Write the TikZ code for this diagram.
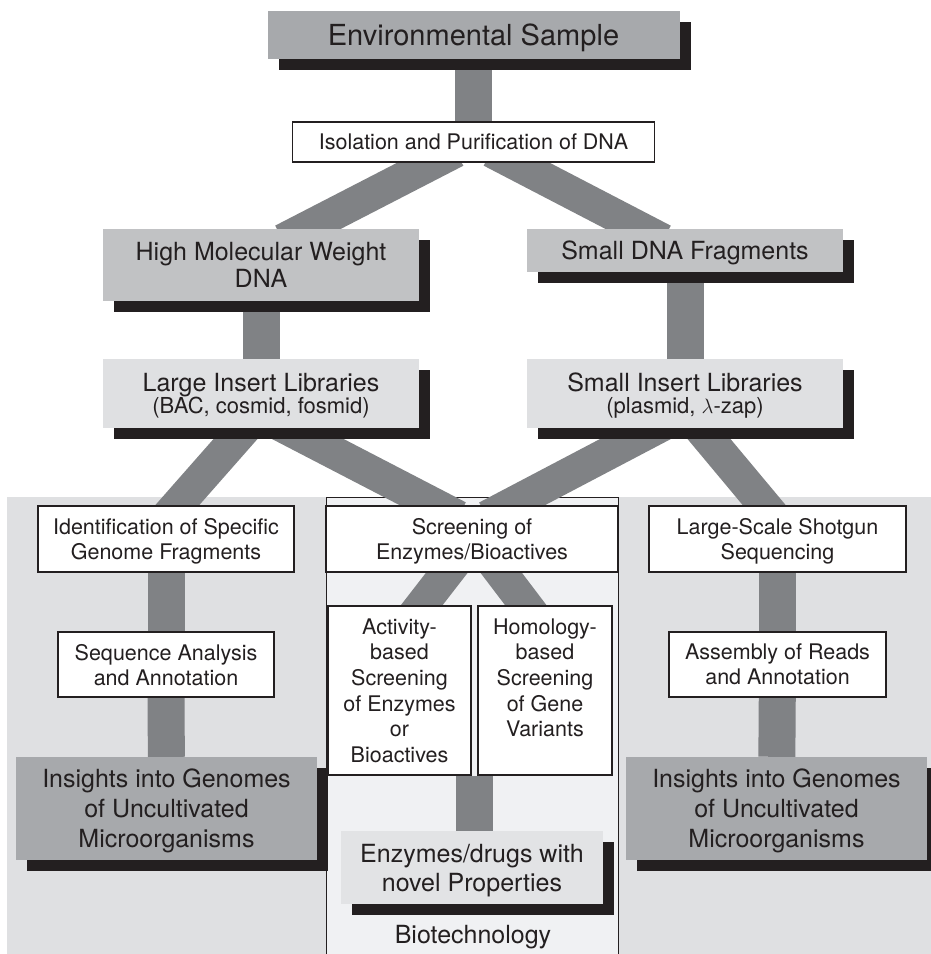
\documentclass[tikz,border=0pt]{standalone}
\usepackage{fontspec}
\setmainfont{TeX Gyre Heros}
\usetikzlibrary{shadows,calc}
\definecolor{barc}{HTML}{808285}
\definecolor{darkc}{HTML}{A7A9AC}
\definecolor{midc}{HTML}{C1C2C4}
\definecolor{lightc}{HTML}{DFE0E2}
\definecolor{bgc}{HTML}{DFE0E2}
\definecolor{panelc}{HTML}{F0F1F3}
\definecolor{enzc}{HTML}{E2E3E5}
\definecolor{shc}{HTML}{231F20}
\definecolor{txc}{HTML}{231F20}
\pgfdeclarelayer{bglayer}
\pgfdeclarelayer{barlayer}
\pgfsetlayers{bglayer,barlayer,main}
\begin{document}
\begin{tikzpicture}[x=1pt,y=-1pt,
  box/.style={inner sep=0pt, align=center, text=txc, text depth=0pt},
  shbox/.style={box, drop shadow={shadow xshift=11pt, shadow yshift=-11pt, fill=shc, opacity=1}},
  wbox/.style={box, fill=white, draw=txc, line width=1.1pt},
  fA/.style={font=\fontsize{29}{32}\selectfont},
  fB/.style={font=\fontsize{25}{26.7}\selectfont},
  fC/.style={font=\fontsize{21.5}{25}\selectfont},
  fD/.style={font=\fontsize{21.5}{25.6}\selectfont},
  fE/.style={font=\fontsize{25}{30}\selectfont},
  fL/.style={font=\fontsize{25}{22}\selectfont},
  vbar/.style={line width=37pt, draw=barc},
  dbar/.style={line width=33pt, draw=barc, shorten <=-25pt, shorten >=-25pt},
]
\useasboundingbox (0,0) rectangle (931,954);

% nodes
\node[shbox, fill=darkc, fA, minimum width=412pt, minimum height=48pt] (env) at (473.5,35) {Environmental Sample};
\node[wbox, fC, minimum width=362pt, minimum height=40pt] (iso) at (473.5,142) {Isolation and Purification of DNA};
\node[shbox, fill=midc, fB, minimum width=316pt, minimum height=72pt] (hmw) at (261,265) {High Molecular Weight\\DNA};
\node[shbox, fill=midc, fB, minimum width=316pt, minimum height=43pt] (sdf) at (685,250.5) {Small DNA Fragments};
\node[shbox, fill=lightc, fL, minimum width=316pt, minimum height=69pt] (lil) at (261,393.5) {Large Insert Libraries\\{\fontsize{22}{22}\selectfont (BAC, cosmid, fosmid)}};
\node[shbox, fill=lightc, fL, minimum width=316pt, minimum height=69pt] (sil) at (685,393.5) {Small Insert Libraries\\{\fontsize{22}{22}\selectfont (plasmid, $\lambda$-zap)}};

\begin{pgfonlayer}{bglayer}
\fill[white] (0,0) rectangle (931,954);
\fill[bgc] (7,497) rectangle (931,954);
\filldraw[fill=panelc, draw=txc, line width=0.8pt] (326,497) rectangle (618,966);
\end{pgfonlayer}

\node[wbox, fC, minimum width=256pt, minimum height=66pt] (idf) at (166,539) {Identification of Specific\\Genome Fragments};
\node[wbox, fC, minimum width=292pt, minimum height=66pt] (scr) at (472,539) {Screening of\\Enzymes/Bioactives};
\node[wbox, fC, minimum width=257pt, minimum height=66pt] (lss) at (777.5,539) {Large-Scale Shotgun\\Sequencing};
\node[wbox, fC, minimum width=216pt, minimum height=65pt] (seq) at (166,664.5) {Sequence Analysis\\and Annotation};
\node[wbox, fC, minimum width=217pt, minimum height=65pt] (asm) at (777.5,664.5) {Assembly of Reads\\and Annotation};
\node[wbox, fD, minimum width=143pt, minimum height=169pt] (act) at (399.5,690.5) {Activity-\\based\\Screening\\of Enzymes\\or\\Bioactives};
\node[wbox, fD, minimum width=134pt, minimum height=169pt] (hom) at (545,690.5) {Homology-\\based\\Screening\\of Gene\\Variants\\\mbox{}};
\node[shbox, fill=darkc, fE, minimum width=301pt, minimum height=103pt] (insL) at (166.5,808.5) {Insights into Genomes\\of Uncultivated\\Microorganisms};
\node[shbox, fill=darkc, fE, minimum width=301pt, minimum height=103pt] (insR) at (776.5,808.5) {Insights into Genomes\\of Uncultivated\\Microorganisms};
\node[shbox, fill=enzc, font=\fontsize{25}{29}\selectfont, minimum width=262pt, minimum height=73pt] (enz) at (472,867.5) {Enzymes/drugs with\\novel Properties};
\node[box, fB] (bio) at (473,934) {Biotechnology};

% connectors
\begin{pgfonlayer}{barlayer}
\draw[vbar] (env) -- (iso);
\draw[dbar] ([xshift=-40pt]iso.south) -- ([xshift=44pt]hmw.north);
\draw[dbar] ([xshift=40pt]iso.south) -- ([xshift=-44pt]sdf.north);
\draw[vbar] (hmw) -- (lil);
\draw[vbar] (sdf) -- (sil);
\draw[dbar] ([xshift=-16pt]lil.south) -- ([xshift=11pt]idf.north);
\draw[dbar] ([xshift=15pt]sil.south) -- ([xshift=-13pt]lss.north);
\draw[dbar] ([xshift=26pt]lil.south) -- ([xshift=-36pt]scr.north);
\draw[dbar] ([xshift=-29pt]sil.south) -- ([xshift=37pt]scr.north);
\draw[dbar] ([xshift=-25pt]scr.south) -- ([xshift=22pt]act.north);
\draw[dbar] ([xshift=29pt]scr.south) -- ([xshift=-19pt]hom.north);
\draw[vbar] (idf) -- (seq);
\draw[vbar] (seq) -- (insL);
\draw[vbar] (lss) -- (asm);
\draw[vbar] (asm) -- (insR);
\coordinate (gap) at ($(act.south east)!0.5!(hom.south west)$);
\draw[vbar] (gap) -- (gap |- enz.north);
\end{pgfonlayer}
\end{tikzpicture}
\end{document}
